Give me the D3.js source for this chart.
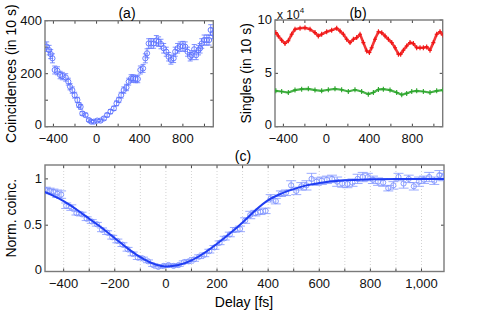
<!DOCTYPE html>
<html>
<head>
<meta charset="utf-8">
<script src="https://cdn.jsdelivr.net/npm/d3@7"></script>
<style>
  body { margin: 0; background: #fff; }
  svg { font-family: "Liberation Sans", Arial, sans-serif; }
</style>
</head>
<body>
<div id="chart"></div>
<script>
// panel (a): coincidences vs delay
const delayA = [-462,-440,-425,-409,-388,-363,-338,-317,-286,-262,-246,-225,-203,-178,-163,-148,-132,-102,-71,-49,
  -25,6,37,68,98,129,160,185,206,228,252,277,298,320,338,360,382,406,431,452,
  468,483,505,529,554,575,597,622,646,668,689,714,729,751,775,800,822,843,868,883,
  905,923,945,960,975,997,1022,1043,1058,1077];
const coincA = [302,289,274,258,214,211,195,191,186,170,151,138,119,101,82,75,50,44,25,19,
  19,23,23,31,44,57,69,88,101,119,138,148,170,182,182,180,180,214,220,258,
  277,314,314,314,325,321,312,296,283,264,252,258,283,296,302,304,302,283,264,270,
  292,270,289,296,314,327,327,327,365,352];
const errA = [18,18,17,17,15,15,14,14,14,13,12,12,11,10,9,9,7,7,5,5,
  5,5,5,6,7,8,8,9,10,11,12,12,13,14,14,14,14,15,15,17,
  17,18,18,18,19,18,18,18,17,16,16,16,17,18,18,18,18,17,16,17,
  18,17,18,18,18,19,19,19,20,20];

// panel (b): singles (x 10^4)
const delayRed = [-470,-447,-416,-385,-354,-323,-292,-245,-199,-152,-106,-75,-44,3,49,96,127,158,189,220,
  251,282,313,344,375,400,421,452,484,515,546,577,608,639,670,691,716,747,778,809,
  840,871,902,933,964,995,1026,1057,1082];
const singlesRed = [8.82,8.5,8.1,7.8,8.05,8.66,9.13,9.22,9.28,9.13,8.82,8.5,8.66,8.9,9.03,9.22,8.97,8.66,8.19,7.88,
  8.19,8.35,8.66,7.88,7.1,6.95,7.4,8.19,8.9,8.8,8.5,8.19,7.88,7.4,6.8,6.8,7.17,7.57,7.88,7.79,
  7.4,7.4,7.4,7.48,7.17,7.88,8.66,8.9,8.6];
const delayGreen = [-470,-416,-354,-292,-230,-168,-106,-44,18,80,142,204,266,328,390,437,484,530,592,654,
  701,747,794,840,902,964,1026,1082];
const singlesGreen = [3.36,3.3,3.2,3.43,3.52,3.55,3.43,3.36,3.46,3.55,3.46,3.3,3.46,3.3,3.05,3.2,3.49,3.52,3.43,3.2,
  2.99,3.12,3.3,3.36,3.3,3.2,3.36,3.43];

// panel (c): normalised coincidences + fit
const delayC = [-470,-455,-440,-425,-410,-390,-370,-350,-330,-310,-290,-270,-250,-230,-210,-190,-170,-150,-130,-110,
  -90,-70,-50,-30,-10,10,30,50,70,90,110,130,150,170,190,210,230,250,270,290,
  310,330,350,370,390,410,430,450,470,490,510,530,550,570,590,610,630,650,670,690,
  710,730,750,770,790,810,830,850,870,890,910,930,950,970,990,1010,1030,1050,1070,1085];
const normC = [0.88,0.87,0.86,0.84,0.83,0.71,0.69,0.63,0.62,0.57,0.54,0.51,0.45,0.42,0.37,0.33,0.29,0.24,0.19,0.15,
  0.14,0.11,0.07,0.05,0.06,0.07,0.06,0.07,0.10,0.11,0.13,0.16,0.18,0.22,0.26,0.31,0.36,0.40,0.45,0.46,
  0.55,0.61,0.63,0.645,0.655,0.79,0.76,0.84,0.85,0.93,0.87,0.92,0.93,1.00,0.97,0.98,0.99,1.00,0.97,0.95,
  0.945,0.96,1.00,1.02,1.02,0.99,0.97,0.96,0.90,0.93,1.02,0.95,1.00,0.92,0.97,0.99,1.02,0.98,1.04,1.02];
const errC = [0.03,0.03,0.03,0.04,0.04,0.03,0.03,0.02,0.02,0.02,0.02,0.02,0.02,0.02,0.02,0.02,0.02,0.02,0.02,0.02,
  0.015,0.015,0.015,0.015,0.015,0.015,0.015,0.015,0.015,0.02,0.02,0.02,0.02,0.02,0.02,0.02,0.02,0.025,0.025,0.03,
  0.03,0.04,0.03,0.03,0.03,0.04,0.03,0.03,0.03,0.05,0.04,0.04,0.05,0.06,0.04,0.04,0.04,0.04,0.05,0.04,
  0.04,0.04,0.05,0.05,0.04,0.04,0.04,0.04,0.03,0.04,0.04,0.05,0.04,0.04,0.05,0.04,0.05,0.04,0.05,0.04];
const fitX = [-475,-450,-400,-350,-300,-250,-200,-150,-100,-50,0,50,100,150,200,250,300,350,400,450,500,550,600,650,700,800,900,1000,1090];
const fitY = [0.86,0.83,0.76,0.67,0.57,0.47,0.36,0.25,0.155,0.085,0.055,0.07,0.12,0.2,0.3,0.41,0.53,0.66,0.77,0.84,0.89,0.93,0.955,0.975,0.985,0.995,1.0,1.0,1.0];

const W = 501, H = 314;
const svg = d3.select('#chart').append('svg').attr('width', W).attr('height', H);

// 画一个坐标框（四边都有朝内的刻度）
function frame(x, y, xt, yt, xfmt, yfmt, xlab, ylab) {
    const g = svg.append('g');
    const [x0, x1] = x.range(), [y0, y1] = y.range();
    xt.forEach(t => {
        g.append('line').attr('x1', x(t)).attr('x2', x(t)).attr('y1', y0).attr('y2', y0 - 3).attr('stroke', '#444');
        g.append('line').attr('x1', x(t)).attr('x2', x(t)).attr('y1', y1).attr('y2', y1 + 3).attr('stroke', '#444');
    });
    yt.forEach(t => {
        g.append('line').attr('x1', x0).attr('x2', x0 + 3).attr('y1', y(t)).attr('y2', y(t)).attr('stroke', '#444');
        g.append('line').attr('x1', x1).attr('x2', x1 - 3).attr('y1', y(t)).attr('y2', y(t)).attr('stroke', '#444');
    });
    g.append('rect').attr('x', x0).attr('y', y1).attr('width', x1 - x0).attr('height', y0 - y1)
        .attr('fill', 'none').attr('stroke', '#7a7a7a').attr('stroke-width', 1.4);
    g.selectAll('.xl').data(xlab).join('text')
        .attr('x', d => x(d)).attr('y', y0 + 16).attr('text-anchor', 'middle')
        .attr('font-size', 13).attr('fill', '#111').text(xfmt);
    g.selectAll('.yl').data(ylab).join('text')
        .attr('x', x0 - 3).attr('y', d => y(d) + (d === 0 ? 2 : 4)).attr('text-anchor', 'end')
        .attr('font-size', 13).attr('fill', '#111').text(yfmt);
    return g;
}

function clipFor(id, x, y) {
    const [x0, x1] = x.range(), [y0, y1] = y.range();
    svg.append('clipPath').attr('id', id).append('rect')
        .attr('x', x0).attr('y', y1).attr('width', x1 - x0).attr('height', y0 - y1);
    return svg.append('g').attr('clip-path', `url(#${id})`);
}

// error bars + open circles
function errCircles(g, xs, ys, es, x, y, color, cap, r) {
    const pts = d3.zip(xs, ys, es);
    g.selectAll(null).data(pts).join('path')
        .attr('d', d => {
            const px = x(d[0]), a = y(d[1] - d[2]), b = y(d[1] + d[2]);
            return `M${px},${a}V${b}M${px - cap},${a}H${px + cap}M${px - cap},${b}H${px + cap}`;
        })
        .attr('fill', 'none').attr('stroke', color).attr('stroke-width', 0.9).attr('opacity', 0.85);
    g.selectAll(null).data(pts).join('circle')
        .attr('cx', d => x(d[0])).attr('cy', d => y(d[1])).attr('r', r)
        .attr('fill', 'none').attr('stroke', color).attr('stroke-width', 0.9);
}

// ---------- (a)
const xa = d3.scaleLinear().domain([-478, 1082]).range([45, 213.3]);
const ya = d3.scaleLinear().domain([0, 400]).range([126.7, 20.7]);
const ticks200 = d3.range(-400, 1001, 200);
const lab400 = [-400, 0, 400, 800];
frame(xa, ya, ticks200, [0, 100, 200, 300, 400], d => d < 0 ? '\u2212' + Math.abs(d) : d, d => d, lab400, [0, 200, 400]);
const ga = clipFor('ca', xa, ya);
errCircles(ga, delayA, coincA, errA, xa, ya, '#5a70ff', 2.5, 2.6);

svg.append('text').attr('x', 127).attr('y', 18).attr('text-anchor', 'middle').attr('font-size', 14).text('(a)');
svg.append('text').attr('transform', `translate(16,${(20.7 + 126.7) / 2}) rotate(-90)`)
    .attr('text-anchor', 'middle').attr('font-size', 14).text('Coincidences (in 10 s)');

// ---------- (b)
const xb = d3.scaleLinear().domain([-478, 1082]).range([275, 442.7]);
const yb = d3.scaleLinear().domain([0, 10]).range([126.7, 20]);
frame(xb, yb, ticks200, [0, 5, 10], d => d < 0 ? '\u2212' + Math.abs(d) : d, d => d, lab400, [0, 5, 10]);
const gb = clipFor('cb', xb, yb);
const lineB = d3.line().x(d => xb(d[0])).y(d => yb(d[1]));
[[delayRed, singlesRed, '#f01414', 2.6], [delayGreen, singlesGreen, '#2aa52a', 2.2]].forEach(([xs, ys, c, w]) => {
    const pts = d3.zip(xs, ys);
    gb.append('path').attr('d', lineB(pts)).attr('fill', 'none').attr('stroke', c).attr('stroke-width', w)
        .attr('stroke-linejoin', 'round').attr('opacity', 0.85);
    gb.selectAll(null).data(pts).join('path')
        .attr('d', d => { const px = xb(d[0]), py = yb(d[1]); return `M${px - 2},${py}H${px + 2}M${px},${py - 2.5}V${py + 2.5}`; })
        .attr('stroke', c).attr('stroke-width', 1.1);
});
const sup = svg.append('text').attr('x', 277).attr('y', 19).attr('font-size', 12).attr('fill', '#111');
sup.append('tspan').text('x 10');
sup.append('tspan').attr('dy', -6).attr('font-size', 8).text('4');
svg.append('text').attr('x', 358).attr('y', 18).attr('text-anchor', 'middle').attr('font-size', 14).text('(b)');
svg.append('text').attr('transform', `translate(251,${(20 + 126.7) / 2}) rotate(-90)`)
    .attr('text-anchor', 'middle').attr('font-size', 14).text('Singles (in 10 s)');

// ---------- (c)
const xc = d3.scaleLinear().domain([-473, 1088]).range([45, 444]);
const yc = d3.scaleLinear().domain([0, 1.15]).range([271.5, 165]);
const ticks100 = d3.range(-400, 1001, 100);
// dotted vertical grid
svg.append('g').selectAll('line').data(ticks100).join('line')
    .attr('x1', d => xc(d)).attr('x2', d => xc(d)).attr('y1', 165).attr('y2', 271.5)
    .attr('stroke', '#c8c8c8').attr('stroke-width', 0.8).attr('stroke-dasharray', '1,2');
frame(xc, yc, ticks100, [0, 0.5, 1], d => d < 0 ? '\u2212' + Math.abs(d) : d3.format(',')(d), d => d,
    d3.range(-400, 1001, 200), [0, 0.5, 1]);
const gc = clipFor('cc', xc, yc);
errCircles(gc, delayC, normC, errC, xc, yc, '#7d92ff', 5, 2.6);
gc.append('path').attr('d', d3.line().curve(d3.curveMonotoneX).x(d => xc(d[0])).y(d => yc(d[1]))(d3.zip(fitX, fitY)))
    .attr('fill', 'none').attr('stroke', '#1f3df2').attr('stroke-width', 2);

svg.append('text').attr('x', 243).attr('y', 161).attr('text-anchor', 'middle').attr('font-size', 14).text('(c)');
svg.append('text').attr('transform', `translate(16,${(165 + 271.5) / 2}) rotate(-90)`)
    .attr('text-anchor', 'middle').attr('font-size', 14).text('Norm. coinc.');
svg.append('text').attr('x', 244).attr('y', 307).attr('text-anchor', 'middle').attr('font-size', 14).text('Delay [fs]');
</script>
</body>
</html>
